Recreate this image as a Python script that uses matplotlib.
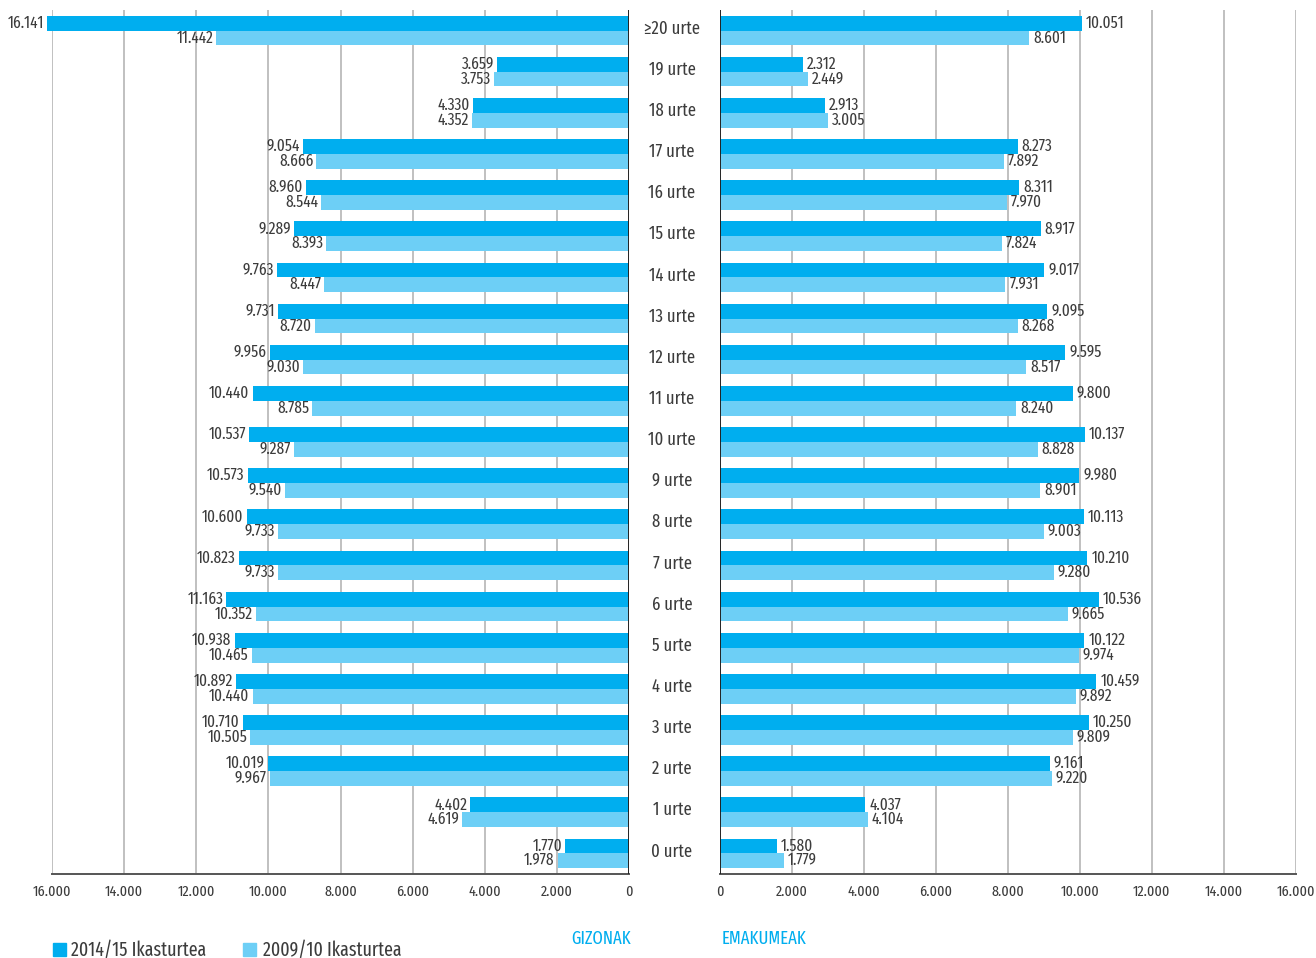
import matplotlib.pyplot as plt
import numpy as np

# datuak (goitik behera)
categories = ["≥20 urte", "19 urte", "18 urte", "17 urte", "16 urte", "15 urte", "14 urte",
              "13 urte", "12 urte", "11 urte", "10 urte", "9 urte", "8 urte", "7 urte",
              "6 urte", "5 urte", "4 urte", "3 urte", "2 urte", "1 urte", "0 urte"]
men_1415 = [16141, 3659, 4330, 9054, 8960, 9289, 9763, 9731, 9956, 10440, 10537,
            10573, 10600, 10823, 11163, 10938, 10892, 10710, 10019, 4402, 1770]
men_0910 = [11442, 3753, 4352, 8666, 8544, 8393, 8447, 8720, 9030, 8785, 9287,
            9540, 9733, 9733, 10352, 10465, 10440, 10505, 9967, 4619, 1978]
women_1415 = [10051, 2312, 2913, 8273, 8311, 8917, 9017, 9095, 9595, 9800, 10137,
              9980, 10113, 10210, 10536, 10122, 10459, 10250, 9161, 4037, 1580]
women_0910 = [8601, 2449, 3005, 7892, 7970, 7824, 7931, 8268, 8517, 8240, 8828,
              8901, 9003, 9280, 9665, 9974, 9892, 9809, 9220, 4104, 1779]
ticks = [0, 2000, 4000, 6000, 8000, 10000, 12000, 14000, 16000]
series_names = ["2014/15 Ikasturtea", "2009/10 Ikasturtea"]

DARK = "#00aeef"
LIGHT = "#6dcff6"
TXT = "#3c3c3c"

plt.rcParams["font.family"] = ["Fira Sans Extra Condensed", "Roboto Condensed", "DejaVu Sans"]


def fmt(v):
    return f"{v:,}".replace(",", ".")


fig = plt.figure(figsize=(13.16, 9.58), dpi=100)
axL = fig.add_axes([0.0395, 0.0877, 0.4385, 0.9019])
axR = fig.add_axes([0.547, 0.0877, 0.4377, 0.9019])

n = len(categories)
y = np.arange(n)[::-1]
h = 0.36

for ax, a, b, side in [(axL, men_1415, men_0910, -1), (axR, women_1415, women_0910, 1)]:
    ax.barh(y + h / 2, a, height=h, color=DARK, clip_on=False, zorder=3)
    ax.barh(y - h / 2, b, height=h, color=LIGHT, clip_on=False, zorder=3)
    ax.set_xlim(0, 16000)
    ax.set_ylim(-0.5, n - 0.5)
    ax.set_xticks(ticks)
    ax.set_xticklabels([fmt(t) for t in ticks], fontsize=11, color=TXT)
    ax.set_yticks([])
    ax.tick_params(axis="x", length=0, pad=8)
    for t in ticks[1:]:
        ax.axvline(t, color="#b5b5b5", lw=1.2, zorder=1)
    ax.axvline(0, color="#222222", lw=1.4, zorder=4)
    for s in ["top", "left", "right"]:
        ax.spines[s].set_visible(False)
    ax.spines["bottom"].set_color("#555555")
    ax.spines["bottom"].set_linewidth(1.4)
    ha = "right" if side < 0 else "left"
    off = -3 if side < 0 else 4
    for yi, va_, vb_ in zip(y, a, b):
        ax.annotate(fmt(va_), (va_, yi + h / 2), xytext=(off, 0), textcoords="offset pixels",
                    ha=ha, va="center", fontsize=12, color=TXT, zorder=5, annotation_clip=False)
        ax.annotate(fmt(vb_), (vb_, yi - h / 2), xytext=(off, 0), textcoords="offset pixels",
                    ha=ha, va="center", fontsize=12, color=TXT, zorder=5, annotation_clip=False)

axL.invert_xaxis()

# kategoria etiketak erdian
for yi, c in zip(y, categories):
    axL.annotate(c, (0, yi + 0.05), xytext=(43, 0), textcoords="offset pixels",
                 ha="center", va="center", fontsize=13, color=TXT, annotation_clip=False)

fig.text(0.4795, 0.0198, "GIZONAK", color=DARK, fontsize=13, ha="right", va="center")
fig.text(0.5486, 0.0198, "EMAKUMEAK", color=DARK, fontsize=13, ha="left", va="center")

# legenda
fig.patches.append(plt.Rectangle((0.0403, 0.0021), 0.0099, 0.0136, transform=fig.transFigure,
                                 color=DARK, figure=fig))
fig.text(0.054, 0.0084, series_names[0], fontsize=14, color=TXT, va="center")
fig.patches.append(plt.Rectangle((0.1847, 0.0021), 0.0099, 0.0136, transform=fig.transFigure,
                                 color=LIGHT, figure=fig))
fig.text(0.1998, 0.0084, series_names[1], fontsize=14, color=TXT, va="center")

fig.savefig("out.png", dpi=100)
